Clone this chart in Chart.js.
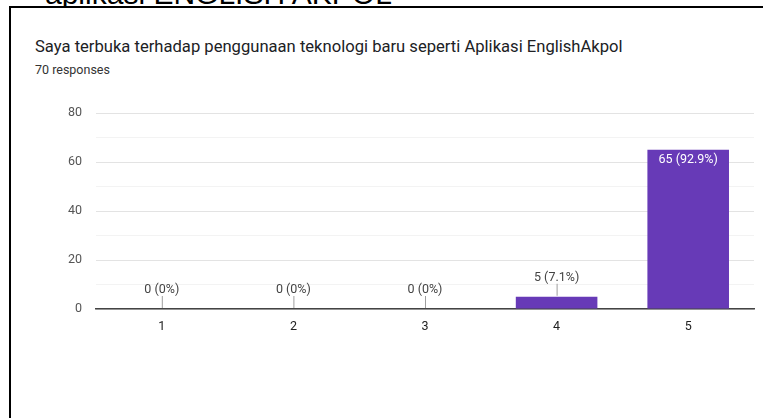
<!DOCTYPE html>
<html>
<head>
<meta charset="utf-8">
<script src="https://cdn.jsdelivr.net/npm/chart.js@4.4.1/dist/chart.umd.min.js"></script>
<style>
  html, body { margin: 0; padding: 0; background: #fff; width: 763px; height: 418px; overflow: hidden; }
  #cut { position: absolute; left: 45px; top: -21px; font: 30px "Liberation Sans", Arial, sans-serif; line-height: 30px; color: #000; white-space: nowrap; z-index: 1; }
  #frame { position: absolute; left: 9px; top: 6px; width: 760px; height: 420px; border-top: 2px solid #000; border-left: 2px solid #000; background: #fff; z-index: 2; }
  #title { position: absolute; left: 35px; top: 37px; font: 16.6px Roboto, sans-serif; line-height: 20px; color: #202124; white-space: nowrap; z-index: 3; }
  #sub { position: absolute; left: 35px; top: 62px; font: 12.5px Roboto, sans-serif; line-height: 15px; color: #333; white-space: nowrap; z-index: 3; }
  #wrap { position: absolute; left: 0; top: 0; width: 763px; height: 418px; z-index: 3; }
</style>
</head>
<body>
<div id="cut">aplikasi ENGLISH AKPOL</div>
<div id="frame"></div>
<div id="title">Saya terbuka terhadap penggunaan teknologi baru seperti Aplikasi EnglishAkpol</div>
<div id="sub">70 responses</div>
<div id="wrap"><canvas id="c" width="763" height="418"></canvas></div>
<script>
const categories = ['1', '2', '3', '4', '5'];
const responses = [0, 0, 0, 5, 65];
const totalResponses = 70;
const yTicks = [0, 20, 40, 60, 80];

const labelPlugin = {
  id: 'barLabels',
  afterDatasetsDraw(chart) {
    const ctx = chart.ctx;
    const xs = chart.scales.x, ys = chart.scales.y;
    ctx.save();
    ctx.font = '12.5px Roboto, sans-serif';
    ctx.textAlign = 'center';
    ctx.textBaseline = 'middle';
    responses.forEach((v, i) => {
      const pct = Number((v / totalResponses * 100).toFixed(1));
      const text = v + ' (' + pct + '%)';
      const x = xs.getPixelForValue(i);
      const top = ys.getPixelForValue(v);
      const base = ys.getPixelForValue(0);
      if (base - top > 24) {
        ctx.fillStyle = '#ffffff';
        ctx.fillText(text, x, top + 10);
      } else {
        ctx.strokeStyle = '#9e9e9e';
        ctx.lineWidth = 1;
        ctx.beginPath();
        ctx.moveTo(x + 0.5, top - 1);
        ctx.lineTo(x + 0.5, top - 13);
        ctx.stroke();
        ctx.fillStyle = '#444';
        ctx.fillText(text, x, top - 19);
      }
    });
    ctx.restore();
  }
};

new Chart(document.getElementById('c'), {
  type: 'bar',
  data: {
    labels: categories,
    datasets: [{
      data: responses,
      backgroundColor: '#673ab7',
      borderWidth: 0,
      categoryPercentage: 1,
      barPercentage: 0.62
    }]
  },
  options: {
    responsive: false,
    animation: false,
    devicePixelRatio: 1,
    layout: { padding: { left: 0, right: 9, top: 113, bottom: 0 } },
    plugins: { legend: { display: false }, tooltip: { enabled: false }, title: { display: false } },
    scales: {
      x: {
        grid: { display: false, drawTicks: false },
        border: { display: true, color: '#444', width: 1.5 },
        ticks: { color: '#222', font: { family: 'Roboto', size: 12.5 }, padding: 10 },
        afterFit(s) { s.height = 418 - 309; }
      },
      y: {
        min: 0, max: 80,
        grid: {
          drawTicks: false,
          color: (c) => (c.tick && yTicks.includes(c.tick.value)) ? '#e3e3e3' : '#f3f3f3',
          lineWidth: 1
        },
        border: { display: false },
        ticks: {
          stepSize: 10,
          color: '#555',
          font: { family: 'Roboto', size: 12.5 },
          padding: 14,
          callback: (v) => yTicks.includes(v) ? String(v) : ''
        },
        afterFit(s) { s.width = 96; }
      }
    }
  },
  plugins: [labelPlugin]
});
</script>
</body>
</html>
